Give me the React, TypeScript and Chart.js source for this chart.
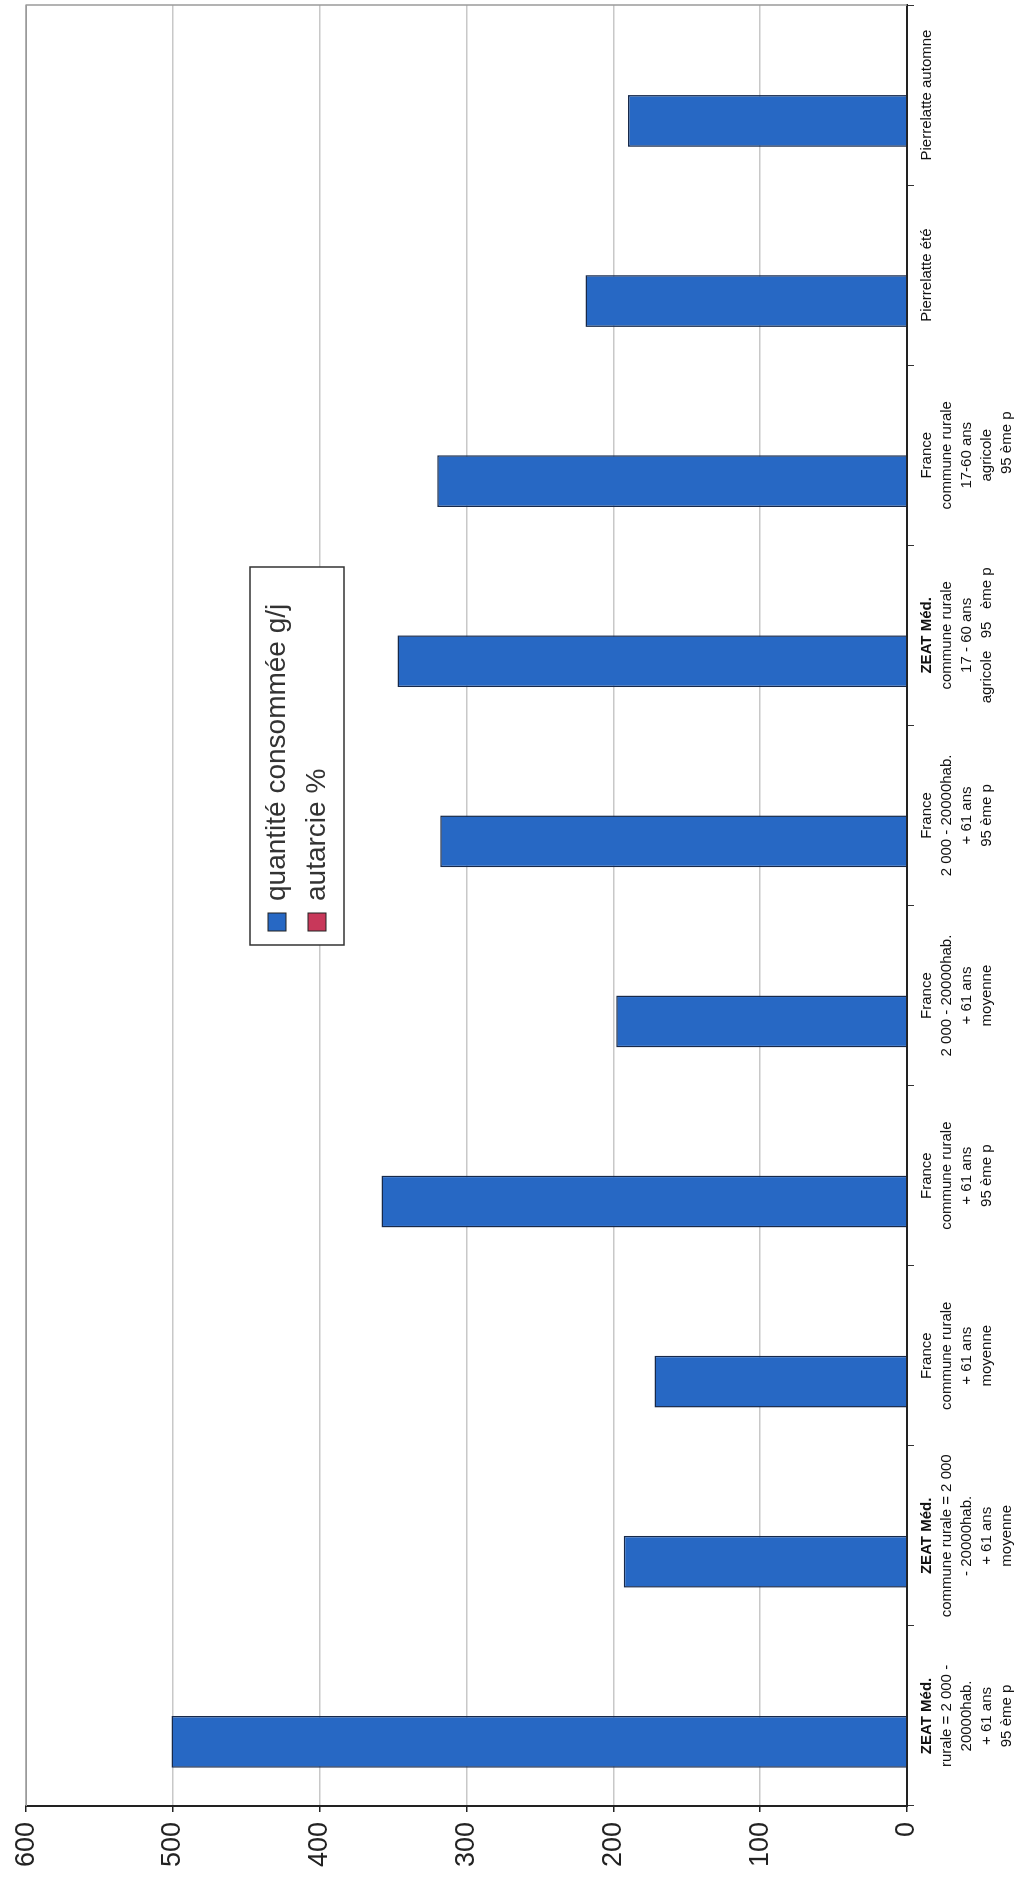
import React, { useEffect, useRef } from "react";
import { Chart, registerables } from "chart.js";

Chart.register(...registerables);

// ---- data ----
const categories: string[][] = [
  ["ZEAT Méd.", "rurale = 2 000 -", "20000hab.", "+ 61 ans", "95 ème p"],
  ["ZEAT Méd.", "commune rurale = 2 000", "- 20000hab.", "+ 61 ans", "moyenne"],
  ["France", "commune rurale", "+ 61 ans", "moyenne"],
  ["France", "commune rurale", "+ 61 ans", "95 ème p"],
  ["France", "2 000 - 20000hab.", "+ 61 ans", "moyenne"],
  ["France", "2 000 - 20000hab.", "+ 61 ans", "95 ème p"],
  ["ZEAT Méd.", "commune rurale", "17 - 60 ans", "agricole   95   ème p"],
  ["France", "commune rurale", "17-60 ans", "agricole", "      95 ème p"],
  ["Pierrelatte été"],
  ["Pierrelatte automne"],
];
const boldFirstLine: boolean[] = [true, true, false, false, false, false, true, false, false, false];
const quantite: number[] = [501, 193, 172, 358, 198, 318, 347, 320, 219, 190];
const autarcie: (number | null)[] = [null, null, null, null, null, null, null, null, null, null];
const seriesNames: string[] = ["quantité consommée g/j", "autarcie %"];
const valueTicks: number[] = [0, 100, 200, 300, 400, 500, 600];

// ---- layout (original, un-rotated orientation) ----
const W = 1880;
const H = 1021;
const BLUE = "#2768c4";
const RED = "#c8385a";
const FONT = "'Liberation Sans', Arial, sans-serif";

const legendBox = { left: 935, top: 250, width: 378, height: 94 };

const framePlugin = {
  id: "frame",
  beforeDatasetsDraw(chart: any) {
    const { ctx, chartArea } = chart;
    ctx.save();
    ctx.strokeStyle = "#9a9a9a";
    ctx.lineWidth = 1.5;
    ctx.beginPath();
    ctx.moveTo(chartArea.left, chartArea.top);
    ctx.lineTo(chartArea.right, chartArea.top);
    ctx.lineTo(chartArea.right, chartArea.bottom);
    ctx.stroke();
    ctx.restore();
  },
};

const categoryLabelPlugin = {
  id: "catLabels",
  afterDraw(chart: any) {
    const { ctx } = chart;
    const xs = chart.scales.x;
    const top = xs.top + 12;
    ctx.save();
    ctx.fillStyle = "#111";
    ctx.textAlign = "center";
    ctx.textBaseline = "top";
    categories.forEach((lines, i) => {
      const cx = xs.getPixelForTick(i);
      lines.forEach((line, j) => {
        const bold = j === 0 && boldFirstLine[i];
        ctx.font = `${bold ? "bold " : ""}15px ${FONT}`;
        ctx.fillText(line, cx, top + j * 20);
      });
    });
    ctx.restore();
  },
};

const legendPlugin = {
  id: "boxLegend",
  afterDraw(chart: any) {
    const { ctx } = chart;
    const b = legendBox;
    ctx.save();
    ctx.fillStyle = "#ffffff";
    ctx.strokeStyle = "#333333";
    ctx.lineWidth = 1.5;
    ctx.fillRect(b.left, b.top, b.width, b.height);
    ctx.strokeRect(b.left, b.top, b.width, b.height);
    ctx.font = `28px ${FONT}`;
    ctx.textBaseline = "middle";
    chart.data.datasets.forEach((ds: any, i: number) => {
      const cy = b.top + 27 + i * 40;
      const sx = b.left + 14;
      ctx.fillStyle = ds.backgroundColor;
      ctx.fillRect(sx, cy - 9, 18, 18);
      ctx.strokeStyle = "#222";
      ctx.lineWidth = 1;
      ctx.strokeRect(sx, cy - 9, 18, 18);
      ctx.fillStyle = "#333";
      ctx.fillText(ds.label, sx + 30, cy);
    });
    ctx.restore();
  },
};

export default function App() {
  const ref = useRef<HTMLCanvasElement | null>(null);

  useEffect(() => {
    if (!ref.current) return;
    const chart = new Chart(ref.current, {
      type: "bar",
      data: {
        labels: categories.map((c) => c.join(" ")),
        datasets: [
          {
            label: seriesNames[0],
            data: quantite,
            backgroundColor: BLUE,
            borderColor: "#17294a",
            borderWidth: 1.5,
            categoryPercentage: 0.575,
            barPercentage: 1,
          },
          {
            label: seriesNames[1],
            data: autarcie,
            backgroundColor: RED,
            borderColor: "#17294a",
            borderWidth: 1.5,
            categoryPercentage: 0.575,
            barPercentage: 1,
          },
        ],
      },
      options: {
        responsive: false,
        animation: false,
        devicePixelRatio: 1,
        layout: { padding: { top: 19, right: 5, left: 0, bottom: 0 } },
        plugins: {
          legend: { display: false },
          tooltip: { enabled: false },
        },
        scales: {
          x: {
            grid: {
              display: true,
              drawOnChartArea: false,
              drawTicks: true,
              tickLength: 7,
              tickColor: "#333",
              offset: true,
            },
            border: { display: true, color: "#222", width: 2 },
            ticks: { display: false, autoSkip: false },
            afterFit(scale: any) {
              scale.height = H - 907;
            },
          },
          y: {
            min: 0,
            max: 600,
            afterBuildTicks(scale: any) {
              scale.ticks = valueTicks.map((v) => ({ value: v }));
            },
            grid: {
              color: "#c8c8c8",
              lineWidth: 1.5,
              drawTicks: true,
              tickLength: 6,
              tickColor: "#222",
            },
            border: { display: true, color: "#222", width: 2 },
            ticks: {
              color: "#222",
              padding: 10,
              font: { family: FONT, size: 27 },
            },
            afterFit(scale: any) {
              scale.width = 74;
            },
          },
        },
      },
      plugins: [framePlugin, categoryLabelPlugin, legendPlugin],
    });
    return () => chart.destroy();
  }, []);

  return (
    <div
      style={{
        position: "absolute",
        left: 0,
        top: 0,
        width: W,
        height: H,
        transformOrigin: "0 0",
        transform: `translate(0px, ${W}px) rotate(-90deg)`,
        background: "#ffffff",
      }}
    >
      <canvas ref={ref} width={W} height={H} style={{ width: W, height: H, display: "block" }} />
    </div>
  );
}
